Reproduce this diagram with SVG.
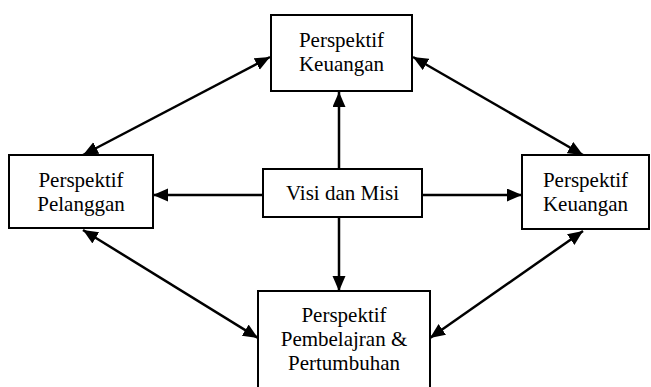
<svg xmlns="http://www.w3.org/2000/svg" width="651" height="387" viewBox="0 0 651 387">
<style>
.box{fill:#fff;stroke:#000;stroke-width:2}
.t{font-family:'Liberation Serif','Tinos','DejaVu Serif',serif;font-size:21px;fill:#000;text-anchor:middle}
.c{stroke:#000;stroke-width:2.5;fill:none}
</style>
<defs>
<marker id="ah" markerUnits="userSpaceOnUse" markerWidth="16" markerHeight="14" refX="15" refY="6.5" orient="auto-start-reverse">
<path d="M0,0 L15,6.5 L0,13 z" fill="#000"/>
</marker>
</defs>
<rect width="651" height="387" fill="#fff"/>
<g id="connectors">
<line class="c" x1="339" y1="169" x2="339" y2="92" marker-end="url(#ah)"/>
<line class="c" x1="339" y1="217" x2="339" y2="291" marker-end="url(#ah)"/>
<line class="c" x1="263" y1="195" x2="153" y2="195" marker-end="url(#ah)"/>
<line class="c" x1="422" y1="195" x2="522" y2="195" marker-end="url(#ah)"/>
<line class="c" x1="83" y1="155" x2="270" y2="57" marker-start="url(#ah)" marker-end="url(#ah)"/>
<line class="c" x1="413" y1="57" x2="583" y2="155" marker-start="url(#ah)" marker-end="url(#ah)"/>
<line class="c" x1="83" y1="230" x2="258" y2="338" marker-start="url(#ah)" marker-end="url(#ah)"/>
<line class="c" x1="583" y1="231" x2="430" y2="338" marker-start="url(#ah)" marker-end="url(#ah)"/>
</g>
<g id="top">
<rect class="box" x="271" y="15" width="141" height="76"/>
<text class="t" x="341.5" y="47">Perspektif</text>
<text class="t" x="341.5" y="71">Keuangan</text>
</g>
<g id="left">
<rect class="box" x="9" y="155" width="144" height="73"/>
<text class="t" x="81" y="187">Perspektif</text>
<text class="t" x="81" y="211">Pelanggan</text>
</g>
<g id="center">
<rect class="box" x="263" y="169" width="159" height="48"/>
<text class="t" x="342.5" y="200">Visi dan Misi</text>
</g>
<g id="right">
<rect class="box" x="522" y="155" width="127" height="74"/>
<text class="t" x="585.5" y="187">Perspektif</text>
<text class="t" x="585.5" y="211">Keuangan</text>
</g>
<g id="bottom">
<rect class="box" x="258" y="291" width="172" height="100"/>
<text class="t" x="344" y="322">Perspektif</text>
<text class="t" x="344" y="346">Pembelajran &amp;</text>
<text class="t" x="344" y="370">Pertumbuhan</text>
</g>
</svg>
